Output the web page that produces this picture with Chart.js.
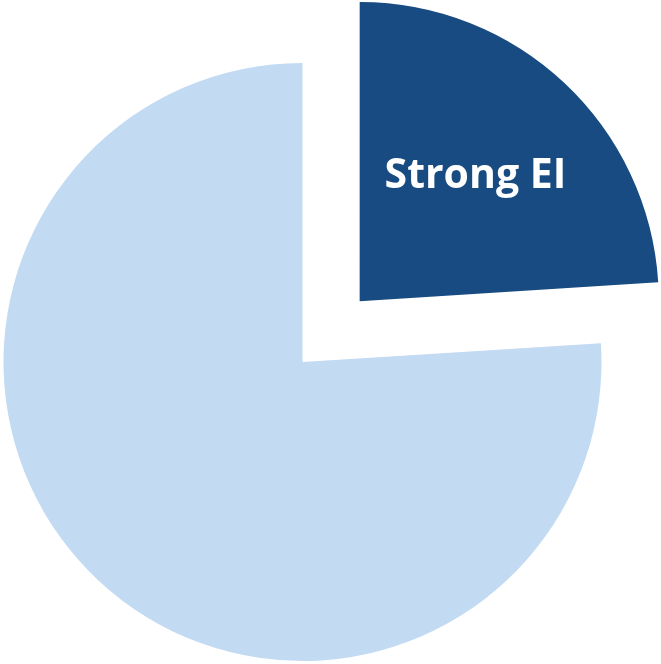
<!DOCTYPE html>
<html>
<head>
<meta charset="utf-8">
<script src="https://cdn.jsdelivr.net/npm/chart.js@4"></script>
<style>
  html, body { margin: 0; padding: 0; background: #ffffff; }
  #c { display: block; }
</style>
</head>
<body>
<canvas id="c" width="661" height="664"></canvas>
<script>
const categories = ['Strong EI', 'Other'];
const values = [24, 76];
const sliceLabels = ['Strong EI', ''];
const colors = ['#184B81', '#C2DBF3'];

const labelPlugin = {
  id: 'sliceLabels',
  afterDatasetsDraw(chart) {
    const ctx = chart.ctx;
    const meta = chart.getDatasetMeta(0);
    meta.data.forEach((arc, i) => {
      const txt = sliceLabels[i];
      if (!txt) return;
      const p = arc.getProps(['x', 'y', 'startAngle', 'endAngle', 'outerRadius', 'circumference']);
      const half = (p.startAngle + p.endAngle) / 2;
      const off = (arc.options.offset || 0) / 4;
      const fix = 1 - Math.sin(Math.min(Math.PI, p.circumference || 0));
      const disp = off * (1 + fix);
      const d = disp + 0.565 * p.outerRadius;
      const x = p.x + Math.cos(half) * d;
      const y = p.y + Math.sin(half) * d;
      const fs = 41;
      ctx.save();
      ctx.fillStyle = '#ffffff';
      ctx.font = 'bold ' + fs + 'px "Open Sans", "DejaVu Sans", sans-serif';
      ctx.textAlign = 'center';
      ctx.textBaseline = 'alphabetic';
      ctx.fillText(txt, x, y + 0.24 * fs);
      ctx.restore();
    });
  }
};

new Chart(document.getElementById('c'), {
  type: 'pie',
  data: {
    labels: categories,
    datasets: [{
      data: values,
      backgroundColor: colors,
      borderWidth: 0,
      offset: [334, 0],
      hoverOffset: 0,
      radius: 299,
      clip: false
    }]
  },
  options: {
    responsive: false,
    animation: false,
    radius: 299,
    layout: { padding: { left: 0, right: 56, top: 60, bottom: 0 } },
    plugins: {
      legend: { display: false },
      tooltip: { enabled: false }
    },
    events: []
  },
  plugins: [labelPlugin]
});
</script>
</body>
</html>
